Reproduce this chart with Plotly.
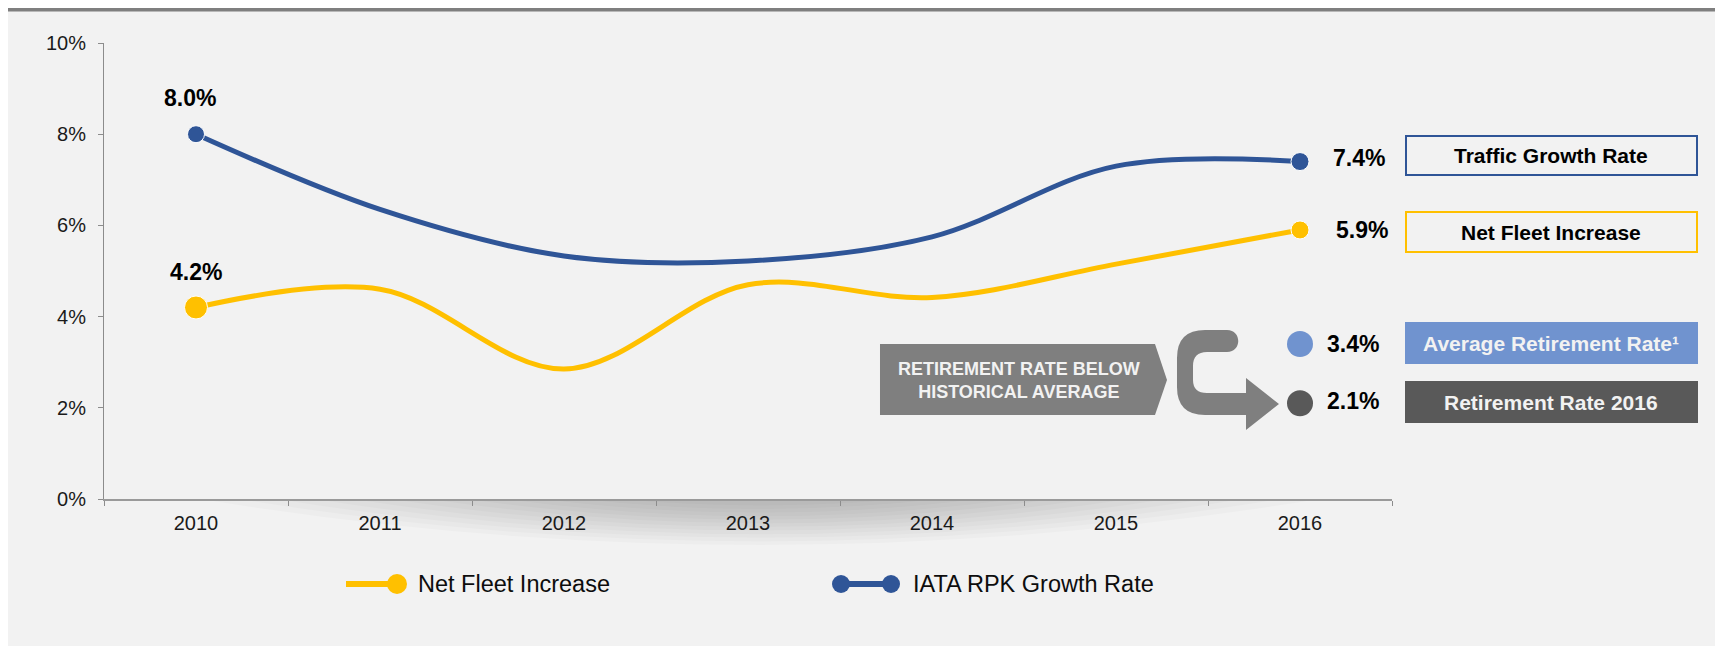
import plotly.graph_objects as go

# data
years = ["2010", "2011", "2012", "2013", "2014", "2015", "2016"]
net_fleet = [4.2, 4.6, 2.85, 4.7, 4.42, 5.15, 5.9]
iata_rpk = [8.0, 6.35, 5.33, 5.22, 5.75, 7.3, 7.4]
retire_vals = [3.4, 2.1]
retire_labels = ["Average Retirement Rate¹", "Retirement Rate 2016"]
y_ticks = [0, 2, 4, 6, 8, 10]

YELLOW = "#FFC000"
BLUE = "#2F5597"
LIGHT_BLUE = "#7093CF"
DARK_GREY = "#595959"
ARROW_GREY = "#7F7F7F"
BG = "#F2F2F2"
FONT = "Liberation Sans, Arial, sans-serif"

W, H = 1723, 646
OFF = 8  # page body margin
# plot area in screen pixels
L, R, T, B = 104, 1392, 43, 499


def px(x):
    return (x - L) / (R - L)


def py(y):
    return (B - y) / (B - T)


def path(points):
    out = ""
    for cmd, pts in points:
        out += cmd + " ".join(f"{px(x):.5f},{py(y):.5f}" for x, y in pts) + " "
    return out + "Z"


fig = go.Figure()

fig.add_trace(go.Scatter(
    x=years, y=net_fleet, mode="lines+markers", name="Net Fleet Increase",
    line=dict(color=YELLOW, width=5, shape="spline", smoothing=1.0),
    marker=dict(size=[23, 0, 0, 0, 0, 0, 18], color=YELLOW, opacity=1),
    showlegend=False, cliponaxis=False,
))
fig.add_trace(go.Scatter(
    x=years, y=iata_rpk, mode="lines+markers", name="IATA RPK Growth Rate",
    line=dict(color=BLUE, width=5, shape="spline", smoothing=1.0),
    marker=dict(size=[17, 0, 0, 0, 0, 0, 18], color=BLUE, opacity=1),
    showlegend=False, cliponaxis=False,
))
fig.add_trace(go.Scatter(
    x=[years[-1]] * len(retire_vals), y=retire_vals, mode="markers",
    marker=dict(size=26, color=[LIGHT_BLUE, DARK_GREY], opacity=1),
    showlegend=False, cliponaxis=False,
))

shapes = []
# top rule
shapes.append(dict(type="rect", xref="paper", yref="paper", x0=px(OFF), x1=px(W + OFF), y0=py(OFF),
                   y1=py(11.5), fillcolor="#7F7F7F", line_width=0, layer="below"))

# soft shadow under the x axis
for i in range(12):
    half = 560 - i * 38
    depth = 46 - i * 3.6
    xc = 760
    shapes.append(dict(type="path", xref="paper", yref="paper", layer="below",
                       path=path([("M", [(xc - half, B)]), ("Q", [(xc, B + 2 * depth), (xc + half, B)])]),
                       fillcolor="rgba(0,0,0,0.018)", line_width=0))

# retirement arrow box
shapes.append(dict(type="path", xref="paper", yref="paper",
                   path=path([("M", [(880, 344)]), ("L", [(1155, 344)]), ("L", [(1167, 380)]),
                              ("L", [(1155, 415)]), ("L", [(880, 415)])]),
                   fillcolor=ARROW_GREY, line_width=0))

# curved arrow
shapes.append(dict(type="path", xref="paper", yref="paper",
                   path=path([
                       ("M", [(1227, 330)]),
                       ("C", [(1242, 330), (1242, 352), (1227, 352)]),
                       ("L", [(1207, 352)]),
                       ("Q", [(1193, 352), (1193, 366)]),
                       ("L", [(1193, 380)]),
                       ("Q", [(1193, 393), (1207, 393)]),
                       ("L", [(1246, 393)]),
                       ("L", [(1246, 378)]),
                       ("L", [(1279, 404)]),
                       ("L", [(1246, 430)]),
                       ("L", [(1246, 415)]),
                       ("L", [(1205, 415)]),
                       ("Q", [(1177, 415), (1177, 387)]),
                       ("L", [(1177, 358)]),
                       ("Q", [(1177, 330), (1205, 330)]),
                   ]),
                   fillcolor=ARROW_GREY, line_width=0))

# right-hand boxes
boxes = [
    ("Traffic Growth Rate", 136, 175, "rgba(0,0,0,0)", BLUE, "#000000"),
    ("Net Fleet Increase", 212, 252, "rgba(0,0,0,0)", YELLOW, "#000000"),
    (retire_labels[0], 323, 363, LIGHT_BLUE, LIGHT_BLUE, BG),
    (retire_labels[1], 382, 422, DARK_GREY, DARK_GREY, BG),
]
annotations = []
for text, y0, y1, fill, border, tcolor in boxes:
    shapes.append(dict(type="rect", xref="paper", yref="paper", x0=px(1406), x1=px(1697),
                       y0=py(y0), y1=py(y1), fillcolor=fill, line=dict(color=border, width=2)))
    annotations.append(dict(xref="paper", yref="paper", x=px(1551.5), y=py((y0 + y1) / 2),
                            xanchor="center", yanchor="middle",
                            text=f"<b>{text}</b>", showarrow=False,
                            font=dict(size=21, color=tcolor, family=FONT)))

annotations.append(dict(xref="paper", yref="paper", x=px(1019), y=py(380), xanchor="center",
                        yanchor="middle", text="<b>RETIREMENT RATE BELOW<br>HISTORICAL AVERAGE</b>",
                        showarrow=False, font=dict(size=18, color=BG, family=FONT)))


# value labels (x as category index)
def lab(i, y, xs, ys):
    return dict(x=i, y=y, xref="x", yref="y", xshift=xs, yshift=ys, showarrow=False,
                xanchor="center", yanchor="middle",
                text=f"<b>{y:.1f}%</b>", font=dict(size=23, color="#000000", family=FONT))


last = len(years) - 1
annotations.append(lab(0, iata_rpk[0], -6, 36))
annotations.append(lab(0, net_fleet[0], 0, 35))
annotations.append(lab(last, iata_rpk[-1], 59, 4))
annotations.append(lab(last, net_fleet[-1], 62, 0))
annotations.append(lab(last, retire_vals[0], 53, 0))
annotations.append(lab(last, retire_vals[1], 53, 2))

# custom legend
ly = 584
shapes.append(dict(type="line", xref="paper", yref="paper", x0=px(346), x1=px(397), y0=py(ly), y1=py(ly),
                   line=dict(color=YELLOW, width=6)))
shapes.append(dict(type="circle", xref="paper", yref="paper", x0=px(387), x1=px(407), y0=py(ly - 10),
                   y1=py(ly + 10), fillcolor=YELLOW, line_width=0))
shapes.append(dict(type="line", xref="paper", yref="paper", x0=px(841), x1=px(891), y0=py(ly), y1=py(ly),
                   line=dict(color=BLUE, width=6)))
for cx in (841, 891):
    shapes.append(dict(type="circle", xref="paper", yref="paper", x0=px(cx - 9), x1=px(cx + 9),
                       y0=py(ly - 9), y1=py(ly + 9), fillcolor=BLUE, line_width=0))
for text, x in [("Net Fleet Increase", 416), ("IATA RPK Growth Rate", 911)]:
    annotations.append(dict(xref="paper", yref="paper", x=px(x), y=py(ly), xanchor="left", yanchor="middle",
                            text=text, showarrow=False, font=dict(size=23.5, color="#0D0D0D", family=FONT)))

fig.update_layout(
    width=W, height=H, autosize=False,
    margin=dict(l=L - OFF, r=W + OFF - R, t=T - OFF, b=H + OFF - B, pad=0),
    paper_bgcolor=BG, plot_bgcolor="rgba(0,0,0,0)",
    font=dict(family=FONT, color="#1A1A1A", size=20),
    shapes=shapes, annotations=annotations,
    xaxis=dict(type="category", range=[-0.5, 6.5], tickson="boundaries", ticks="outside", ticklen=5,
               tickcolor="#8C8C8C", showline=True, linecolor="#9A9A9A", linewidth=2, showgrid=False,
               zeroline=False, ticklabelstandoff=5, tickfont=dict(size=20)),
    yaxis=dict(range=[0, 10], tickvals=y_ticks, ticktext=[f"{v}%" for v in y_ticks], ticks="outside",
               ticklen=5, tickcolor="#8C8C8C", showline=True, linecolor="#8C8C8C", linewidth=1,
               showgrid=False, zeroline=False, ticklabelstandoff=8, tickfont=dict(size=20)),
)

fig.write_html("out.html")
